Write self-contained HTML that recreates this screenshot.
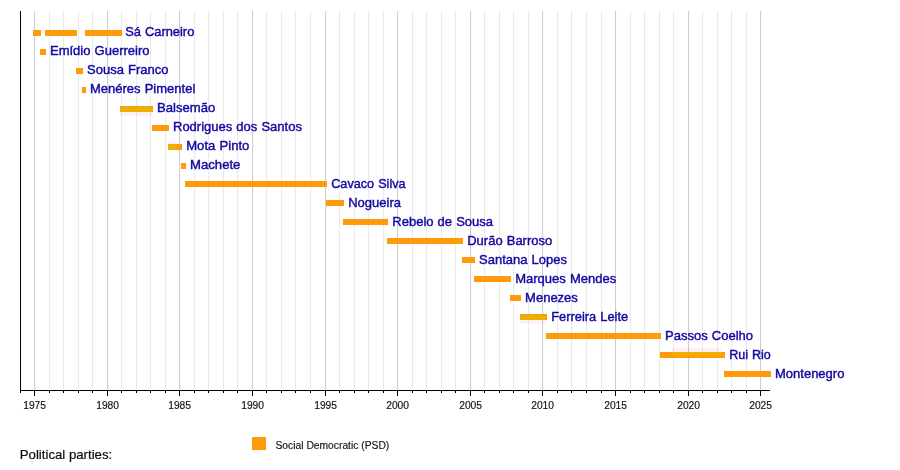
<!DOCTYPE html>
<html><head><meta charset="utf-8"><title>PSD leaders timeline</title>
<style>
html,body{margin:0;padding:0;background:#fff;}
body{width:900px;height:470px;overflow:hidden;font-family:"Liberation Sans",sans-serif;}
svg{display:block;will-change:transform;font-family:"Liberation Sans",sans-serif;}
.n{font-size:13px;word-spacing:0.5px;fill:#1408a2;stroke:#1408a2;stroke-width:0.42px;}
.t{font-size:10px;fill:#111;stroke:#111;stroke-width:0.15px;text-anchor:middle;}
</style></head><body>
<svg width="900" height="470" viewBox="0 0 900 470">
<rect width="900" height="470" fill="#fff"/>
<g fill="#e9e9e9"><rect x="49.08" y="11" width="1" height="379"/><rect x="63.08" y="11" width="1" height="379"/><rect x="78.08" y="11" width="1" height="379"/><rect x="92.08" y="11" width="1" height="379"/><rect x="121.08" y="11" width="1" height="379"/><rect x="136.08" y="11" width="1" height="379"/><rect x="150.08" y="11" width="1" height="379"/><rect x="165.08" y="11" width="1" height="379"/><rect x="194.08" y="11" width="1" height="379"/><rect x="208.08" y="11" width="1" height="379"/><rect x="223.08" y="11" width="1" height="379"/><rect x="237.08" y="11" width="1" height="379"/><rect x="266.08" y="11" width="1" height="379"/><rect x="281.08" y="11" width="1" height="379"/><rect x="295.08" y="11" width="1" height="379"/><rect x="310.08" y="11" width="1" height="379"/><rect x="339.08" y="11" width="1" height="379"/><rect x="354.08" y="11" width="1" height="379"/><rect x="368.08" y="11" width="1" height="379"/><rect x="383.08" y="11" width="1" height="379"/><rect x="412.08" y="11" width="1" height="379"/><rect x="426.08" y="11" width="1" height="379"/><rect x="441.08" y="11" width="1" height="379"/><rect x="455.08" y="11" width="1" height="379"/><rect x="484.08" y="11" width="1" height="379"/><rect x="499.08" y="11" width="1" height="379"/><rect x="513.08" y="11" width="1" height="379"/><rect x="528.08" y="11" width="1" height="379"/><rect x="557.08" y="11" width="1" height="379"/><rect x="571.08" y="11" width="1" height="379"/><rect x="586.08" y="11" width="1" height="379"/><rect x="601.08" y="11" width="1" height="379"/><rect x="630.08" y="11" width="1" height="379"/><rect x="644.08" y="11" width="1" height="379"/><rect x="659.08" y="11" width="1" height="379"/><rect x="673.08" y="11" width="1" height="379"/><rect x="702.08" y="11" width="1" height="379"/><rect x="717.08" y="11" width="1" height="379"/><rect x="731.08" y="11" width="1" height="379"/><rect x="746.08" y="11" width="1" height="379"/></g>
<g fill="#cacaca"><rect x="34.08" y="11" width="1" height="379"/><rect x="107.08" y="11" width="1" height="379"/><rect x="179.08" y="11" width="1" height="379"/><rect x="252.08" y="11" width="1" height="379"/><rect x="325.08" y="11" width="1" height="379"/><rect x="397.08" y="11" width="1" height="379"/><rect x="470.08" y="11" width="1" height="379"/><rect x="542.08" y="11" width="1" height="379"/><rect x="615.08" y="11" width="1" height="379"/><rect x="688.08" y="11" width="1" height="379"/><rect x="760.08" y="11" width="1" height="379"/></g>
<rect x="33.0" y="30.00" width="8.0" height="6" fill="#ff9a0a"/><rect x="45.0" y="30.00" width="32.0" height="6" fill="#ff9a0a"/><rect x="85.0" y="30.00" width="37.0" height="6" fill="#ff9a0a"/><text class="n" transform="translate(125.2,36.45) scale(0.99,1)">Sá Carneiro</text>
<rect x="40.0" y="49.00" width="6.0" height="6" fill="#ff9a0a"/><text class="n" transform="translate(50.0,55.42) scale(1,1)">Emídio Guerreiro</text>
<rect x="76.0" y="68.00" width="7.0" height="6" fill="#ff9a0a"/><text class="n" transform="translate(87.0,74.39) scale(1,1)">Sousa Franco</text>
<rect x="82.0" y="87.00" width="4.0" height="6" fill="#ff9a0a"/><text class="n" transform="translate(90.0,93.36) scale(1,1)">Menéres Pimentel</text>
<rect x="120.0" y="106.00" width="33.0" height="6" fill="#ff9a0a"/><text class="n" transform="translate(157.0,112.33) scale(1.01,1)">Balsemão</text>
<rect x="152.0" y="125.00" width="17.0" height="6" fill="#ff9a0a"/><text class="n" transform="translate(173.0,131.30) scale(1,1)">Rodrigues dos Santos</text>
<rect x="168.0" y="144.00" width="14.0" height="6" fill="#ff9a0a"/><text class="n" transform="translate(186.2,150.27) scale(1.01,1)">Mota Pinto</text>
<rect x="181.0" y="163.00" width="5.0" height="6" fill="#ff9a0a"/><text class="n" transform="translate(190.0,169.24) scale(1.012,1)">Machete</text>
<rect x="185.0" y="181.00" width="142.0" height="6" fill="#ff9a0a"/><text class="n" transform="translate(331.2,188.21) scale(0.975,1)">Cavaco Silva</text>
<rect x="326.0" y="200.00" width="18.0" height="6" fill="#ff9a0a"/><text class="n" transform="translate(348.2,207.18) scale(1,1)">Nogueira</text>
<rect x="343.0" y="219.00" width="45.0" height="6" fill="#ff9a0a"/><text class="n" transform="translate(392.3,226.15) scale(1,1)">Rebelo de Sousa</text>
<rect x="387.0" y="238.00" width="76.0" height="6" fill="#ff9a0a"/><text class="n" transform="translate(467.2,245.12) scale(1,1)">Durão Barroso</text>
<rect x="462.0" y="257.00" width="13.0" height="6" fill="#ff9a0a"/><text class="n" transform="translate(479.0,264.09) scale(1,1)">Santana Lopes</text>
<rect x="474.0" y="276.00" width="37.0" height="6" fill="#ff9a0a"/><text class="n" transform="translate(515.2,283.06) scale(1,1)">Marques Mendes</text>
<rect x="510.0" y="295.00" width="11.0" height="6" fill="#ff9a0a"/><text class="n" transform="translate(525.1,302.03) scale(1,1)">Menezes</text>
<rect x="520.0" y="314.00" width="27.0" height="6" fill="#ff9a0a"/><text class="n" transform="translate(551.2,321.00) scale(0.99,1)">Ferreira Leite</text>
<rect x="546.0" y="333.00" width="115.0" height="6" fill="#ff9a0a"/><text class="n" transform="translate(665.1,339.97) scale(1,1)">Passos Coelho</text>
<rect x="660.0" y="352.00" width="65.0" height="6" fill="#ff9a0a"/><text class="n" transform="translate(729.2,358.94) scale(0.965,1)">Rui Rio</text>
<rect x="724.0" y="371.00" width="47.0" height="6" fill="#ff9a0a"/><text class="n" transform="translate(775.0,377.91) scale(1,1)">Montenegro</text>
<rect x="120" y="107" width="32" height="5" fill="#ebb006"/><rect x="120" y="112.3" width="33" height="3.2" fill="#ff9ec4" opacity="0.18"/><rect x="168" y="144" width="8" height="6" fill="#ebb006"/><rect x="176" y="144" width="1.5" height="6" fill="#f2aa08"/><rect x="168" y="140.8" width="9" height="3.2" fill="#ff9ec4" opacity="0.18"/><rect x="520" y="315.3" width="25" height="4.7" fill="#ebb006"/><rect x="520" y="320.3" width="27" height="3" fill="#ff9ec4" opacity="0.18"/><rect x="672" y="352" width="49" height="3.2" fill="#f0ae06"/><rect x="672" y="355.2" width="49" height="1.2" fill="#f8a208"/><rect x="672" y="347.6" width="49" height="4.4" fill="#ff9ec4" opacity="0.18"/>
<g fill="#000"><rect x="20" y="11" width="1" height="380"/><rect x="20" y="390" width="750" height="1"/><rect x="20" y="390" width="1" height="3"/><rect x="34" y="390" width="1" height="6"/><rect x="49" y="390" width="1" height="3"/><rect x="63" y="390" width="1" height="3"/><rect x="78" y="390" width="1" height="3"/><rect x="92" y="390" width="1" height="3"/><rect x="107" y="390" width="1" height="6"/><rect x="121" y="390" width="1" height="3"/><rect x="136" y="390" width="1" height="3"/><rect x="150" y="390" width="1" height="3"/><rect x="165" y="390" width="1" height="3"/><rect x="179" y="390" width="1" height="6"/><rect x="194" y="390" width="1" height="3"/><rect x="208" y="390" width="1" height="3"/><rect x="223" y="390" width="1" height="3"/><rect x="237" y="390" width="1" height="3"/><rect x="252" y="390" width="1" height="6"/><rect x="266" y="390" width="1" height="3"/><rect x="281" y="390" width="1" height="3"/><rect x="295" y="390" width="1" height="3"/><rect x="310" y="390" width="1" height="3"/><rect x="325" y="390" width="1" height="6"/><rect x="339" y="390" width="1" height="3"/><rect x="354" y="390" width="1" height="3"/><rect x="368" y="390" width="1" height="3"/><rect x="383" y="390" width="1" height="3"/><rect x="397" y="390" width="1" height="6"/><rect x="412" y="390" width="1" height="3"/><rect x="426" y="390" width="1" height="3"/><rect x="441" y="390" width="1" height="3"/><rect x="455" y="390" width="1" height="3"/><rect x="470" y="390" width="1" height="6"/><rect x="484" y="390" width="1" height="3"/><rect x="499" y="390" width="1" height="3"/><rect x="513" y="390" width="1" height="3"/><rect x="528" y="390" width="1" height="3"/><rect x="542" y="390" width="1" height="6"/><rect x="557" y="390" width="1" height="3"/><rect x="571" y="390" width="1" height="3"/><rect x="586" y="390" width="1" height="3"/><rect x="601" y="390" width="1" height="3"/><rect x="615" y="390" width="1" height="6"/><rect x="630" y="390" width="1" height="3"/><rect x="644" y="390" width="1" height="3"/><rect x="659" y="390" width="1" height="3"/><rect x="673" y="390" width="1" height="3"/><rect x="688" y="390" width="1" height="6"/><rect x="702" y="390" width="1" height="3"/><rect x="717" y="390" width="1" height="3"/><rect x="731" y="390" width="1" height="3"/><rect x="746" y="390" width="1" height="3"/><rect x="760" y="390" width="1" height="6"/></g>
<text class="t" transform="translate(34.60,408.9) scale(1.03,1.01)">1975</text><text class="t" transform="translate(107.60,408.9) scale(1.03,1.01)">1980</text><text class="t" transform="translate(179.60,408.9) scale(1.03,1.01)">1985</text><text class="t" transform="translate(252.60,408.9) scale(1.03,1.01)">1990</text><text class="t" transform="translate(325.60,408.9) scale(1.03,1.01)">1995</text><text class="t" transform="translate(397.60,408.9) scale(1.03,1.01)">2000</text><text class="t" transform="translate(470.60,408.9) scale(1.03,1.01)">2005</text><text class="t" transform="translate(542.60,408.9) scale(1.03,1.01)">2010</text><text class="t" transform="translate(615.60,408.9) scale(1.03,1.01)">2015</text><text class="t" transform="translate(688.60,408.9) scale(1.03,1.01)">2020</text><text class="t" transform="translate(760.60,408.9) scale(1.03,1.01)">2025</text>
<text x="19.8" y="459" font-size="13.2" fill="#0c0c0c" stroke="#0c0c0c" stroke-width="0.2">Political parties:</text>
<rect x="252" y="437" width="14" height="13" fill="#ff9a0a"/>
<text transform="translate(275.5,449) scale(1.03,1)" font-size="10" fill="#151515" stroke="#151515" stroke-width="0.15">Social Democratic (PSD)</text>
</svg></body></html>
